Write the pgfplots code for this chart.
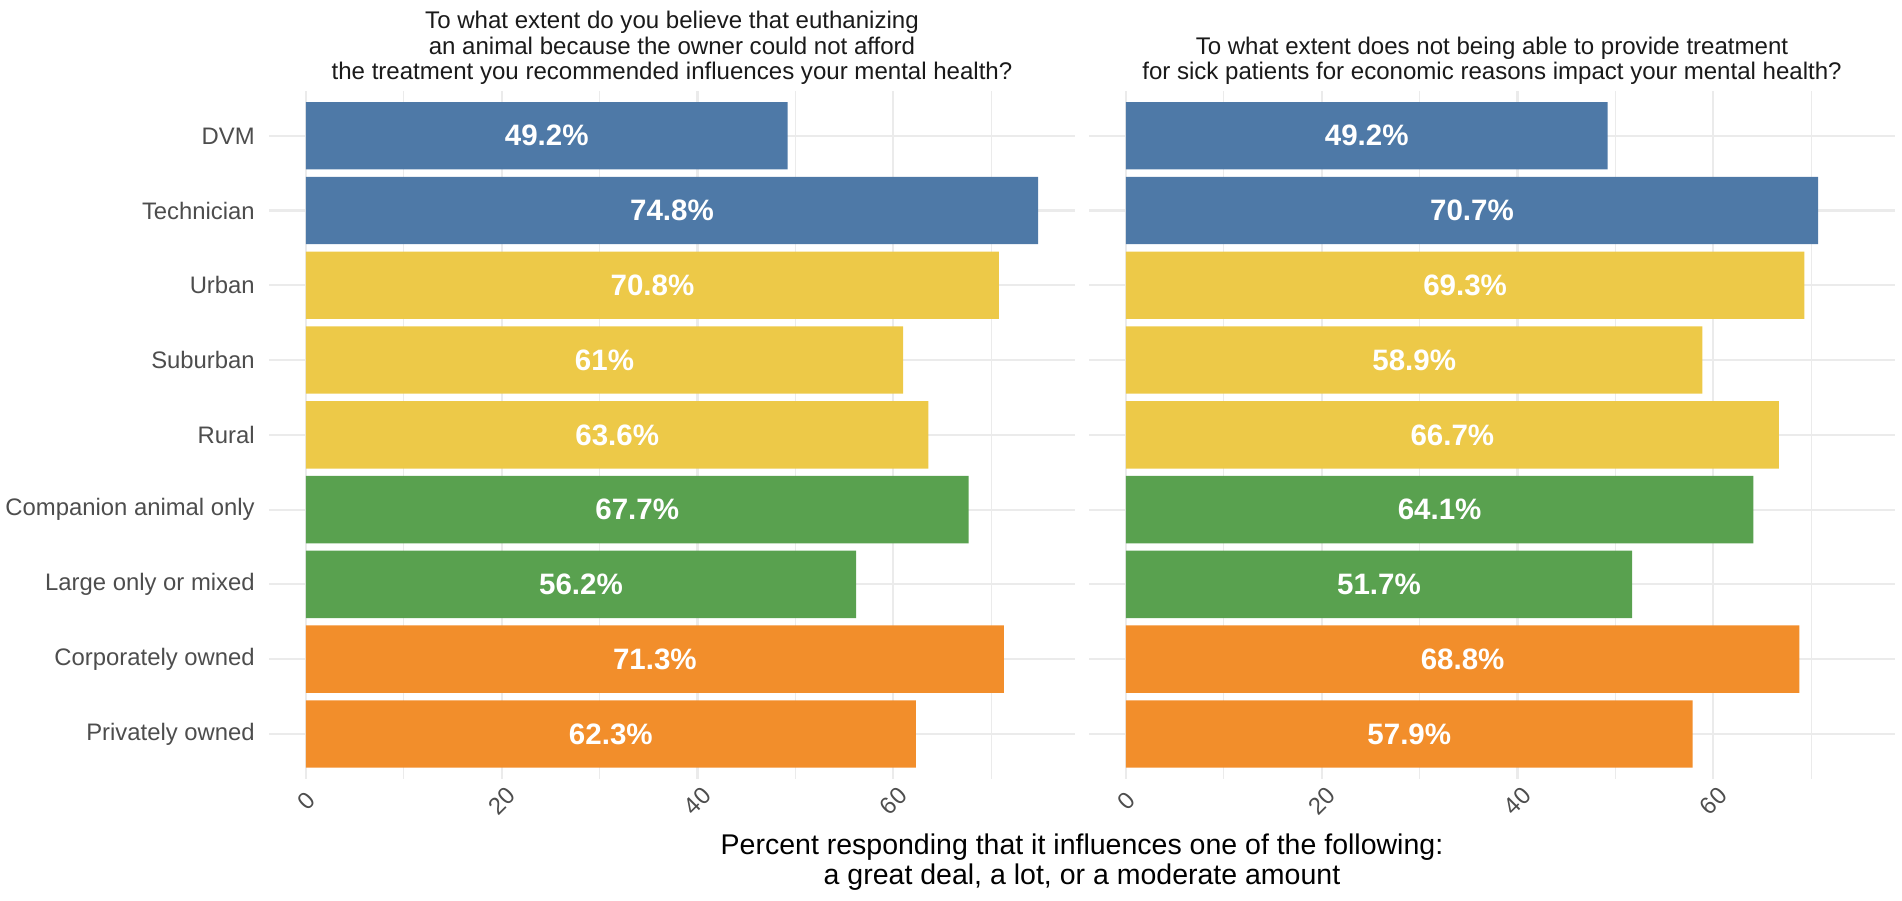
\documentclass[border=0pt]{standalone}
\usepackage{fontspec}
\setmainfont{Liberation Sans}
\usepackage{pgfplots}
\pgfplotsset{compat=1.18}
\usepackage{pgfplotstable}
\definecolor{cblue}{HTML}{4E79A7}
\definecolor{cyellow}{HTML}{EDC948}
\definecolor{cgreen}{HTML}{59A14F}
\definecolor{corange}{HTML}{F28E2B}
\definecolor{gridc}{HTML}{EBEBEB}
\definecolor{tickc}{HTML}{4D4D4D}
\definecolor{titc}{HTML}{1A1A1A}

\pgfplotstableread{
y v
9 49.2
8 74.8
7 70.8
6 61
5 63.6
4 67.7
3 56.2
2 71.3
1 62.3
}\lefttab

\pgfplotstableread{
y v
9 49.2
8 70.7
7 69.3
6 58.9
5 66.7
4 64.1
3 51.7
2 68.8
1 57.9
}\righttab

\pgfplotsset{
 panel/.style={
  scale only axis, width=398.4pt, height=340.2pt,
  xmin=-3.74, xmax=78.54, ymin=0.4, ymax=9.6,
  xtick={0,20,40,60}, minor xtick={10,30,50,70},
  ytick={1,...,9},
  xmajorgrids, xminorgrids, ymajorgrids,
  major grid style={draw=gridc, line width=1.1pt},
  minor grid style={draw=gridc, line width=0.55pt},
  axis line style={draw=none},
  major tick length=0pt, minor tick length=0pt,
  tick style={draw=none},
  /pgf/number format/assume math mode=true,
  tick label style={font=\fontsize{11.8}{14}\selectfont, text=tickc},
  xticklabel style={yshift=-11pt, rotate=45, anchor=center, inner sep=0pt},
  yticklabel style={anchor=east, inner sep=0pt, xshift=-7pt},
  title style={font=\fontsize{11.9}{12.6}\selectfont, text=titc, align=center, anchor=south, at={(0.5,1)}, yshift=-3pt, inner sep=0pt},
  clip=false,
 },
 bars/.style={xbar, bar width=33.28pt, bar shift=0pt, draw=none, fill=#1},
 labs/.style={draw=none, mark=none, nodes near coords={\pgfplotspointmeta\%}, point meta=explicit symbolic,
   every node near coord/.append style={anchor=center, text=white, font=\bfseries\fontsize{14.6}{16}\selectfont, inner sep=0pt}},
}

\begin{document}
\begin{tikzpicture}
\path[use as bounding box] (0,0) rectangle (940.8pt,445.2pt);
\begin{axis}[panel, at={(133.2pt,60pt)}, anchor=south west,
  yticklabels={Privately owned, Corporately owned, Large only or mixed, Companion animal only, Rural, Suburban, Urban, Technician, DVM},
  title={To what extent do you believe that euthanizing\\an animal because the owner could not afford\\the treatment you recommended influences your mental health?}]
\addplot[bars=cblue, restrict y to domain=7.5:9.5] table[x=v, y=y] {\lefttab};
\addplot[bars=cyellow, restrict y to domain=4.5:7.5] table[x=v, y=y] {\lefttab};
\addplot[bars=cgreen, restrict y to domain=2.5:4.5] table[x=v, y=y] {\lefttab};
\addplot[bars=corange, restrict y to domain=0.5:2.5] table[x=v, y=y] {\lefttab};
\addplot[labs] table[x expr=\thisrow{v}/2, y=y, meta=v] {\lefttab};
\end{axis}
\begin{axis}[panel, at={(538.8pt,60pt)}, anchor=south west,
  yticklabels={},
  title={To what extent does not being able to provide treatment\\for sick patients for economic reasons impact your mental health?}]
\addplot[bars=cblue, restrict y to domain=7.5:9.5] table[x=v, y=y] {\righttab};
\addplot[bars=cyellow, restrict y to domain=4.5:7.5] table[x=v, y=y] {\righttab};
\addplot[bars=cgreen, restrict y to domain=2.5:4.5] table[x=v, y=y] {\righttab};
\addplot[bars=corange, restrict y to domain=0.5:2.5] table[x=v, y=y] {\righttab};
\addplot[labs] table[x expr=\thisrow{v}/2, y=y, meta=v] {\righttab};
\end{axis}
\node[anchor=north, align=center, inner sep=0pt, font=\fontsize{14.1}{15}\selectfont] at (535.2pt,33pt)
  {Percent responding that it influences one of the following:\\a great deal, a lot, or a moderate amount};
\end{tikzpicture}
\end{document}
